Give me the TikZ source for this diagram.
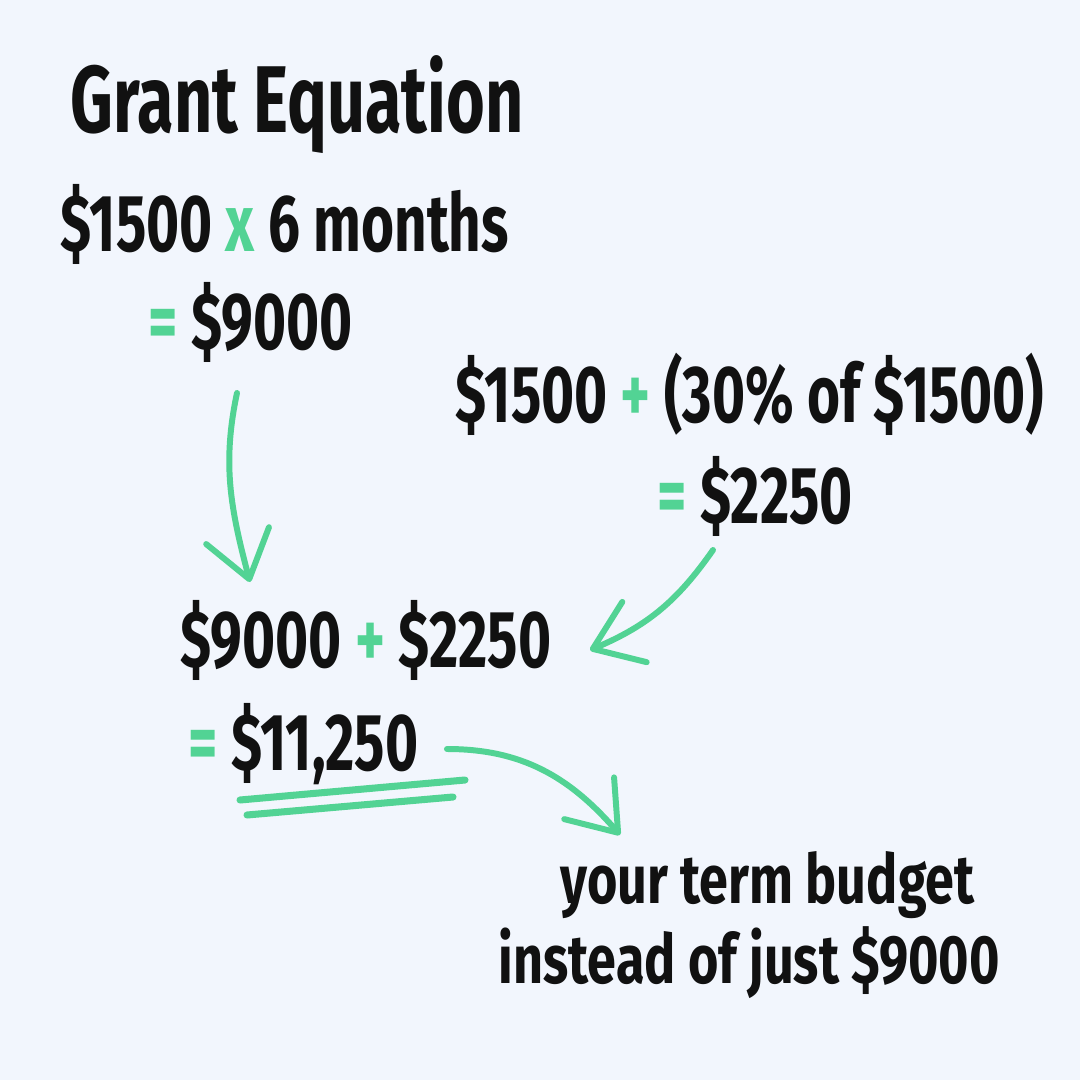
\documentclass[tikz,border=0pt]{standalone}
\usepackage{fontspec}
\setmainfont{Fira Sans}[FakeStretch=0.70]
\newfontfamily\notefont{Fira Sans}[FakeStretch=0.76]
\usepackage{tikz}
\usetikzlibrary{calc,arrows.meta,bending}
\definecolor{bgblue}{HTML}{F2F6FD}
\definecolor{mint}{HTML}{52D394}
\definecolor{ink}{HTML}{111111}
\tikzset{
    hand/.style={anchor=base west, inner sep=0pt, text=ink, font=\bfseries\fontsize{23}{26}\selectfont},
    headline/.style={hand, font=\bfseries\fontsize{27}{30}\selectfont},
    note/.style={hand, font=\notefont\bfseries\fontsize{19.5}{22}\selectfont},
    arrow/.style={draw=mint, line width=1.7pt, line cap=round, -{Straight Barb[length=4.5mm, width=6.5mm, round]}},
    stroke/.style={draw=mint, line width=2pt, line cap=round}
}
\newcommand{\gr}[1]{\textcolor{mint}{#1}}

\begin{document}
\begin{tikzpicture}
    \fill[bgblue] (0,0) rectangle (10.8,-10.8);
    \useasboundingbox (0,0) rectangle (10.8,-10.8);

    % Nodes
    \node[headline] (title) at (0.70,-1.33) {Grant Equation};
    \node[hand] (mult) at (0.60,-2.52) {\$1500 \gr{x} 6 months};
    \node[hand] (res1) at (1.48,-3.50) {\gr{=} \$9000};
    \node[hand] (pct) at (4.55,-4.22) {\$1500 \gr{+} (30\% of \$1500)};
    \node[hand] (res2) at (6.57,-5.23) {\gr{=} \$2250};
    \node[hand] (sum) at (1.80,-6.67) {\$9000 \gr{+} \$2250};
    \node[hand] (total) at (1.88,-7.70) {\gr{=} \$11,250};
    \node[note] (note1) at (5.60,-9.03) {your term budget};
    \node[note] (note2) at (4.98,-9.83) {instead of just \$9000};

    % underline
    \draw[stroke] (2.40,-8.00) -- (4.65,-7.80);
    \draw[stroke] (2.47,-8.15) -- (4.53,-7.97);

    % edges
    \draw[arrow] ($(res1.base west)+(0.89,-0.43)$) to[out=258, in=105] ($(sum.base west)+(0.70,0.85)$);
    \draw[arrow] ($(res2.base west)+(0.56,-0.27)$) to[out=235, in=22] ($(sum.base west)+(4.10,0.17)$);
    \draw[arrow] ($(total.base east)+(0.28,0.21)$) to[out=0, in=130] ($(note1.base west)+(0.60,0.68)$);
\end{tikzpicture}
\end{document}
